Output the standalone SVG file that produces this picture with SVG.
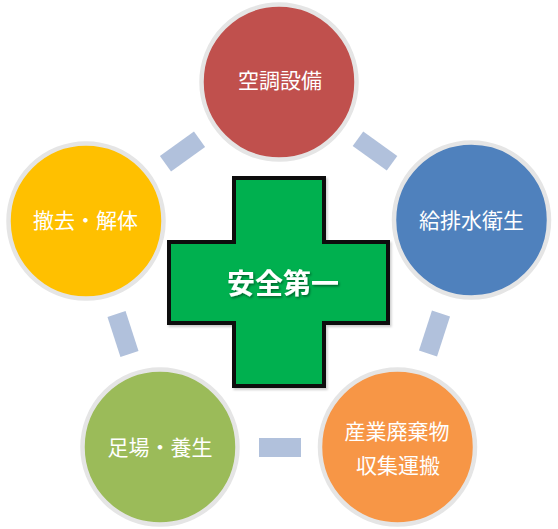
<svg xmlns="http://www.w3.org/2000/svg" width="558" height="529" viewBox="0 0 558 529">
<defs>
<style>
.ring{stroke:#E5E5E5;stroke-width:4.5}
.lbl{font-family:"Noto Sans CJK JP","Noto Sans CJK SC",sans-serif;font-size:21px;fill:#FFFFFF;text-anchor:middle;dominant-baseline:central}
.conn{fill:#B1C1DC}
.main{font-family:"Noto Sans CJK JP","Noto Sans CJK SC",sans-serif;font-size:28px;font-weight:bold;fill:#FFFFFF;text-anchor:middle;dominant-baseline:central}
</style>
<filter id="sh" x="-20%" y="-20%" width="140%" height="140%">
<feDropShadow dx="1.2" dy="1.5" stdDeviation="0.8" flood-color="#000000" flood-opacity="0.45"/>
</filter>
<filter id="crossSh" x="-10%" y="-10%" width="120%" height="120%">
<feDropShadow dx="1.5" dy="2" stdDeviation="1.2" flood-color="#000000" flood-opacity="0.2"/>
</filter>
</defs>
<rect width="558" height="529" fill="#FFFFFF"/>
<g id="connectors">
<rect class="conn" x="-21" y="-9.5" width="42" height="19" transform="translate(182.5,151.5) rotate(-35.8)"/>
<rect class="conn" x="-21" y="-9" width="42" height="18" transform="translate(375,151) rotate(35.8)"/>
<rect class="conn" x="-21" y="-9.5" width="42" height="19" transform="translate(434.5,333.5) rotate(108)"/>
<rect class="conn" x="-21" y="-9.5" width="42" height="19" transform="translate(280,447.5)"/>
<rect class="conn" x="-21" y="-9.5" width="42" height="19" transform="translate(123,334) rotate(72)"/>
</g>
<g id="node-top">
<circle class="ring" cx="279" cy="82" r="77.5" fill="#C0504D"/>
<text class="lbl" x="280" y="79">空調設備</text>
</g>
<g id="node-right">
<circle class="ring" cx="471.5" cy="220" r="77.5" fill="#4F81BD"/>
<text class="lbl" x="471.5" y="219">給排水衛生</text>
</g>
<g id="node-bottom-right">
<circle class="ring" cx="397.5" cy="447" r="77.5" fill="#F79646"/>
<text class="lbl" x="397" y="430">産業廃棄物</text>
<text class="lbl" x="398" y="463.5">収集運搬</text>
</g>
<g id="node-bottom-left">
<circle class="ring" cx="160" cy="447" r="77.5" fill="#9BBB59"/>
<text class="lbl" x="160" y="446">足場・養生</text>
</g>
<g id="node-left">
<circle class="ring" cx="86" cy="221" r="77.5" fill="#FFC000"/>
<text class="lbl" x="85.5" y="219">撤去・解体</text>
</g>
<g id="node-center">
<path d="M234,178 H324 V242 H388 V323 H324 V386 H234 V323 H169 V242 H234 Z" fill="#00B050" stroke="#0D0D0D" stroke-width="4" stroke-linejoin="miter" filter="url(#crossSh)"/>
<text class="main" x="283" y="282" filter="url(#sh)">安全第一</text>
</g>
</svg>
